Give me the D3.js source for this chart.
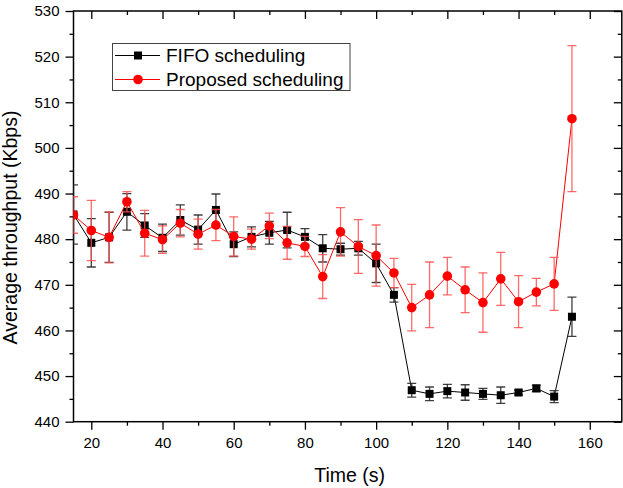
<!DOCTYPE html>
<html>
<head>
<meta charset="utf-8">
<script src="https://cdn.jsdelivr.net/npm/d3@7"></script>
<style>
  html, body { margin: 0; padding: 0; background: #fff; }
  svg { display: block; font-family: "Liberation Sans", Arial, sans-serif; }
</style>
</head>
<body>
<svg id="chart" width="623" height="488"></svg>
<script>
// Sampling instants (s)
const times = [15, 20, 25, 30, 35, 40, 45, 50, 55, 60, 65, 70, 75, 80, 85,
               90, 95, 100, 105, 110, 115, 120, 125, 130, 135, 140, 145, 150, 155];

// FIFO scheduling: mean throughput and error half-width (Kbps)
const fifoMean = [485.4, 479.2, 480.4, 486.0, 483.0, 480.3, 484.2, 482.1, 486.4, 478.9,
                  480.5, 481.4, 482.0, 480.5, 478.0, 477.8, 478.0, 474.7, 467.8, 446.9,
                  446.1, 446.7, 446.4, 446.1, 445.8, 446.4, 447.3, 445.5, 463.0];
const fifoErr  = [6.5, 5.3, 5.5, 4.0, 2.6, 3.0, 3.3, 3.2, 3.5, 2.7,
                  2.2, 2.5, 3.9, 1.8, 3.0, 1.3, 1.5, 4.2, 1.6, 1.5,
                  1.5, 1.5, 1.7, 1.2, 1.8, 0.5, 0.7, 1.3, 4.3];

// Proposed scheduling: mean throughput and error half-width (Kbps)
const propMean = [485.3, 481.9, 480.4, 488.2, 481.3, 479.9, 483.5, 481.1, 483.1, 480.6,
                  480.0, 482.9, 479.2, 478.4, 471.8, 481.6, 478.4, 476.4, 472.6, 465.0,
                  467.8, 471.9, 468.9, 466.1, 471.3, 466.3, 468.4, 470.2, 506.4];
const propErr  = [4.0, 6.6, 5.6, 2.2, 5.0, 3.0, 3.0, 3.3, 3.4, 4.3,
                  2.2, 2.8, 3.6, 2.2, 4.8, 5.3, 5.9, 6.7, 3.2, 5.1,
                  7.2, 4.1, 5.0, 6.5, 5.8, 5.7, 3.0, 5.8, 16.0];

// Axis ticks
const xMajorTicks = [20, 40, 60, 80, 100, 120, 140, 160];
const xMinorTicks = [30, 50, 70, 90, 110, 130, 150];
const yMajorTicks = [440, 450, 460, 470, 480, 490, 500, 510, 520, 530];
const yMinorTicks = [445, 455, 465, 475, 485, 495, 505, 515, 525];

const seriesNames = ["FIFO scheduling", "Proposed scheduling"];
const xTitle = "Time (s)";
const yTitle = "Average throughput (Kbps)";

const W = 623, H = 488;
const x = d3.scaleLinear().domain([15, 169]).range([73.5, 621.8]);
const y = d3.scaleLinear().domain([440, 530]).range([421.7, 11]);
const [x0, x1] = x.range();
const [yb, yt] = y.range();

const svg = d3.select("#chart");
svg.append("rect").attr("width", W).attr("height", H).attr("fill", "#fff");

svg.append("defs").append("clipPath").attr("id", "plotClip")
  .append("rect")
  .attr("x", x0).attr("y", yt)
  .attr("width", x1 - x0).attr("height", yb - yt);

// ---- axes ----
function styleAxis(g) {
  g.select(".domain").remove();
  g.selectAll(".tick line").attr("stroke", "#000").attr("stroke-width", 1.3);
  g.selectAll(".tick text").attr("fill", "#000").style("font-size", "15px");
}

// bottom
svg.append("g").attr("transform", `translate(0,${yb})`)
  .call(d3.axisBottom(x).tickValues(xMajorTicks).tickSize(8).tickPadding(8)
        .tickFormat(d3.format("d")))
  .call(styleAxis);
svg.append("g").attr("transform", `translate(0,${yb})`)
  .call(d3.axisBottom(x).tickValues(xMinorTicks).tickSize(4).tickFormat(""))
  .call(styleAxis);
// top (ticks pointing into the plot)
svg.append("g").attr("transform", `translate(0,${yt})`)
  .call(d3.axisBottom(x).tickValues(xMajorTicks).tickSize(8).tickFormat(""))
  .call(styleAxis);
svg.append("g").attr("transform", `translate(0,${yt})`)
  .call(d3.axisBottom(x).tickValues(xMinorTicks).tickSize(4).tickFormat(""))
  .call(styleAxis);
// left
svg.append("g").attr("transform", `translate(${x0},0)`)
  .call(d3.axisLeft(y).tickValues(yMajorTicks).tickSize(8).tickPadding(6)
        .tickFormat(d3.format("d")))
  .call(styleAxis);
svg.append("g").attr("transform", `translate(${x0},0)`)
  .call(d3.axisLeft(y).tickValues(yMinorTicks).tickSize(4).tickFormat(""))
  .call(styleAxis);
// right (ticks pointing into the plot)
svg.append("g").attr("transform", `translate(${x1},0)`)
  .call(d3.axisLeft(y).tickValues(yMajorTicks).tickSize(8).tickFormat(""))
  .call(styleAxis);
svg.append("g").attr("transform", `translate(${x1},0)`)
  .call(d3.axisLeft(y).tickValues(yMinorTicks).tickSize(4).tickFormat(""))
  .call(styleAxis);

// frame
svg.append("rect")
  .attr("x", x0).attr("y", yt)
  .attr("width", x1 - x0).attr("height", yb - yt)
  .attr("fill", "none").attr("stroke", "#000").attr("stroke-width", 1.5);

// axis titles
svg.append("text")
  .attr("x", (x0 + x1) / 2 + 2).attr("y", 482)
  .attr("text-anchor", "middle").style("font-size", "19.5px").attr("fill", "#000")
  .text(xTitle);
svg.append("text")
  .attr("transform", `translate(17,${227.5}) rotate(-90)`)
  .attr("text-anchor", "middle").style("font-size", "19.5px").attr("fill", "#000")
  .text(yTitle);

// ---- data ----
const plot = svg.append("g").attr("clip-path", "url(#plotClip)");

const series = [
  { name: seriesNames[0], mean: fifoMean, err: fifoErr, line: "#000", bar: "#2a2a2a", marker: "square" },
  { name: seriesNames[1], mean: propMean, err: propErr, line: "#ff0000", bar: "#ff5050", marker: "circle" }
];

const capHalf = 4.5;

series.forEach(s => {
  const pts = times.map((t, i) => ({ t, v: s.mean[i], e: s.err[i] }));
  const g = plot.append("g");

  // connecting line
  g.append("path").datum(pts)
    .attr("fill", "none").attr("stroke", s.line).attr("stroke-width", 1)
    .attr("d", d3.line().x(d => x(d.t)).y(d => y(d.v)));

  // error bars
  const eb = g.append("g").attr("stroke", s.bar).attr("stroke-width", 1.3)
    .attr("stroke-opacity", s.marker === "circle" ? 0.85 : 0.9);
  eb.selectAll("line.v").data(pts).join("line").attr("class", "v")
    .attr("x1", d => x(d.t)).attr("x2", d => x(d.t))
    .attr("y1", d => y(d.v + d.e)).attr("y2", d => y(d.v - d.e));
  eb.selectAll("line.top").data(pts).join("line").attr("class", "top")
    .attr("x1", d => x(d.t) - capHalf).attr("x2", d => x(d.t) + capHalf)
    .attr("y1", d => y(d.v + d.e)).attr("y2", d => y(d.v + d.e));
  eb.selectAll("line.bot").data(pts).join("line").attr("class", "bot")
    .attr("x1", d => x(d.t) - capHalf).attr("x2", d => x(d.t) + capHalf)
    .attr("y1", d => y(d.v - d.e)).attr("y2", d => y(d.v - d.e));

  // markers
  if (s.marker === "square") {
    g.selectAll("rect.m").data(pts).join("rect").attr("class", "m")
      .attr("x", d => x(d.t) - 4).attr("y", d => y(d.v) - 4)
      .attr("width", 8).attr("height", 8).attr("fill", "#000");
  } else {
    g.selectAll("circle.m").data(pts).join("circle").attr("class", "m")
      .attr("cx", d => x(d.t)).attr("cy", d => y(d.v))
      .attr("r", 4.8).attr("fill", "#ff0000");
  }
});

// ---- legend ----
const lg = svg.append("g");
lg.append("rect")
  .attr("x", 112.5).attr("y", 43.5).attr("width", 237.5).attr("height", 47)
  .attr("fill", "#fff").attr("stroke", "#444").attr("stroke-width", 1);

series.forEach((s, i) => {
  const cy = 55.5 + i * 24;
  lg.append("line").attr("x1", 115).attr("x2", 160).attr("y1", cy).attr("y2", cy)
    .attr("stroke", s.line).attr("stroke-width", 1);
  if (s.marker === "square") {
    lg.append("rect").attr("x", 138 - 4).attr("y", cy - 4).attr("width", 8).attr("height", 8)
      .attr("fill", "#000");
  } else {
    lg.append("circle").attr("cx", 138).attr("cy", cy).attr("r", 4.8).attr("fill", "#ff0000");
  }
  lg.append("text").attr("x", 166).attr("y", cy).attr("dy", "0.36em")
    .style("font-size", "19px").attr("fill", "#000").text(s.name);
});
</script>
</body>
</html>
